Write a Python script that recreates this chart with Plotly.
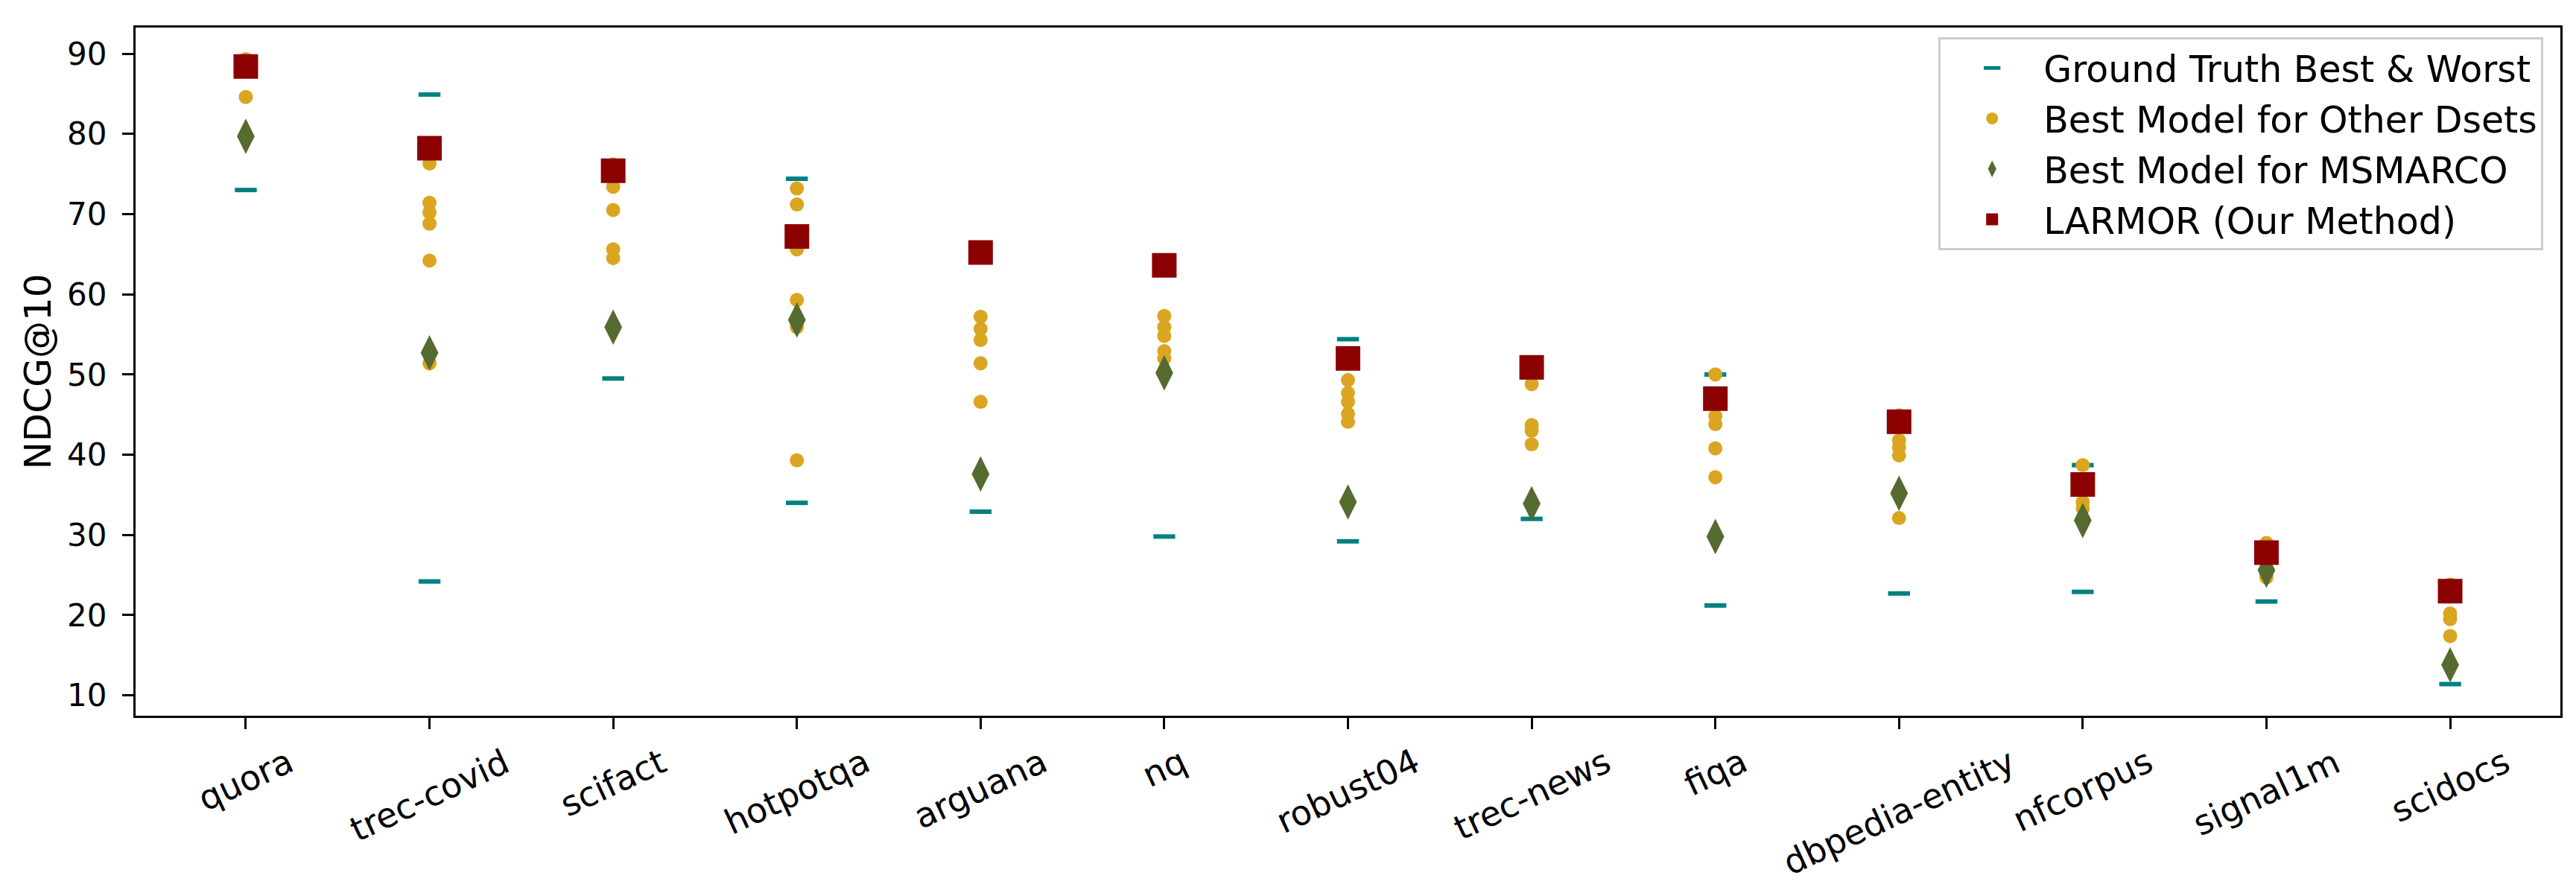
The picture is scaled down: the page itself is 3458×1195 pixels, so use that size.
import plotly.graph_objects as go

datasets = ["quora", "trec-covid", "scifact", "hotpotqa", "arguana", "nq", "robust04",
            "trec-news", "fiqa", "dbpedia-entity", "nfcorpus", "signal1m", "scidocs"]

gt_best = [89.3, 84.9, 76.2, 74.4, 65.2, 63.7, 54.4, 51.0, 50.0, 44.9, 38.7, 29.0, 23.8]
gt_worst = [73.0, 24.2, 49.5, 34.0, 32.9, 29.8, 29.2, 32.0, 21.2, 22.7, 22.9, 21.7, 11.4]
msmarco_best = [79.7, 52.7, 55.9, 56.8, 37.6, 50.2, 34.1, 33.9, 29.8, 35.2, 31.8, 25.6, 13.8]
larmor = [88.4, 78.2, 75.4, 67.2, 65.2, 63.6, 52.0, 50.9, 47.0, 44.1, 36.3, 27.8, 23.0]

# best model picked on each of the other datasets
other_dsets = [
    [89.3, 84.6],
    [76.3, 71.4, 70.2, 68.8, 64.2, 51.4],
    [76.2, 73.4, 70.5, 65.6, 64.5],
    [73.2, 71.2, 65.6, 59.3, 55.9, 39.3],
    [57.2, 55.7, 54.3, 51.4, 46.6],
    [57.3, 55.9, 54.8, 52.9, 52.0],
    [49.3, 47.7, 46.6, 45.1, 44.1],
    [48.8, 43.7, 43.0, 41.3],
    [50.0, 44.8, 43.8, 40.8, 37.2],
    [44.9, 41.8, 40.9, 39.9, 32.1],
    [38.7, 34.1, 33.3],
    [29.0, 24.7],
    [23.8, 20.2, 19.5, 17.4],
]

FONT = "DejaVu Sans"

fig = go.Figure()

# best & worst share one trace, like the matplotlib '_' markers
fig.add_trace(go.Scatter(
    x=datasets + datasets, y=gt_best + gt_worst, mode="markers",
    name="Ground Truth Best & Worst", legendgroup="a",
    marker=dict(symbol="line-ew", size=21, color="teal",
                line=dict(color="teal", width=6)),
))

ox, oy = [], []
for d, vals in zip(datasets, other_dsets):
    ox += [d] * len(vals)
    oy += vals
fig.add_trace(go.Scatter(
    x=ox, y=oy, mode="markers", name="Best Model for Other Dsets", legendgroup="b",
    marker=dict(symbol="circle", size=19, color="goldenrod", line=dict(width=0)),
))

fig.add_trace(go.Scatter(
    x=datasets, y=msmarco_best, mode="markers", name="Best Model for MSMARCO",
    legendgroup="c",
    marker=dict(symbol="diamond-tall", size=34, color="darkolivegreen", line=dict(width=0)),
))

fig.add_trace(go.Scatter(
    x=datasets, y=larmor, mode="markers", name="LARMOR (Our Method)", legendgroup="d",
    marker=dict(symbol="square", size=33, color="darkred", line=dict(width=0)),
))

# x tick labels centred under the ticks, as matplotlib does with rotation=25
for i, d in enumerate(datasets):
    fig.add_annotation(x=i, y=0, xref="x", yref="paper", text=d, showarrow=False,
                       textangle=-25, xanchor="center", yanchor="top", yshift=-31,
                       font=dict(family=FONT, size=46, color="black"))

axis_style = dict(showline=True, mirror=True, linecolor="black", linewidth=3.3,
                  ticks="outside", ticklen=15, tickwidth=3.3, tickcolor="black",
                  showgrid=False, zeroline=False)

fig.update_xaxes(type="category", range=[-0.6, 12.6], showticklabels=False, **axis_style)
fig.update_yaxes(range=[7.46, 93.25], tickvals=[10, 20, 30, 40, 50, 60, 70, 80, 90],
                 ticklabelstandoff=12, tickfont=dict(family=FONT, size=42),
                 title=dict(text="NDCG@10", standoff=6, font=dict(family=FONT, size=50)),
                 **axis_style)

fig.update_layout(
    width=3458, height=1195,
    margin=dict(l=174, r=29, t=29, b=242),
    plot_bgcolor="white", paper_bgcolor="white",
    font=dict(family=FONT, size=42, color="black"),
    legend=dict(
        x=0.993, y=0.986, xanchor="right", yanchor="top",
        bgcolor="rgba(255,255,255,0.8)", bordercolor="#cccccc", borderwidth=3,
        font=dict(family=FONT, size=49), tracegroupgap=1, itemwidth=128,
    ),
)

fig.write_html("out.html")
